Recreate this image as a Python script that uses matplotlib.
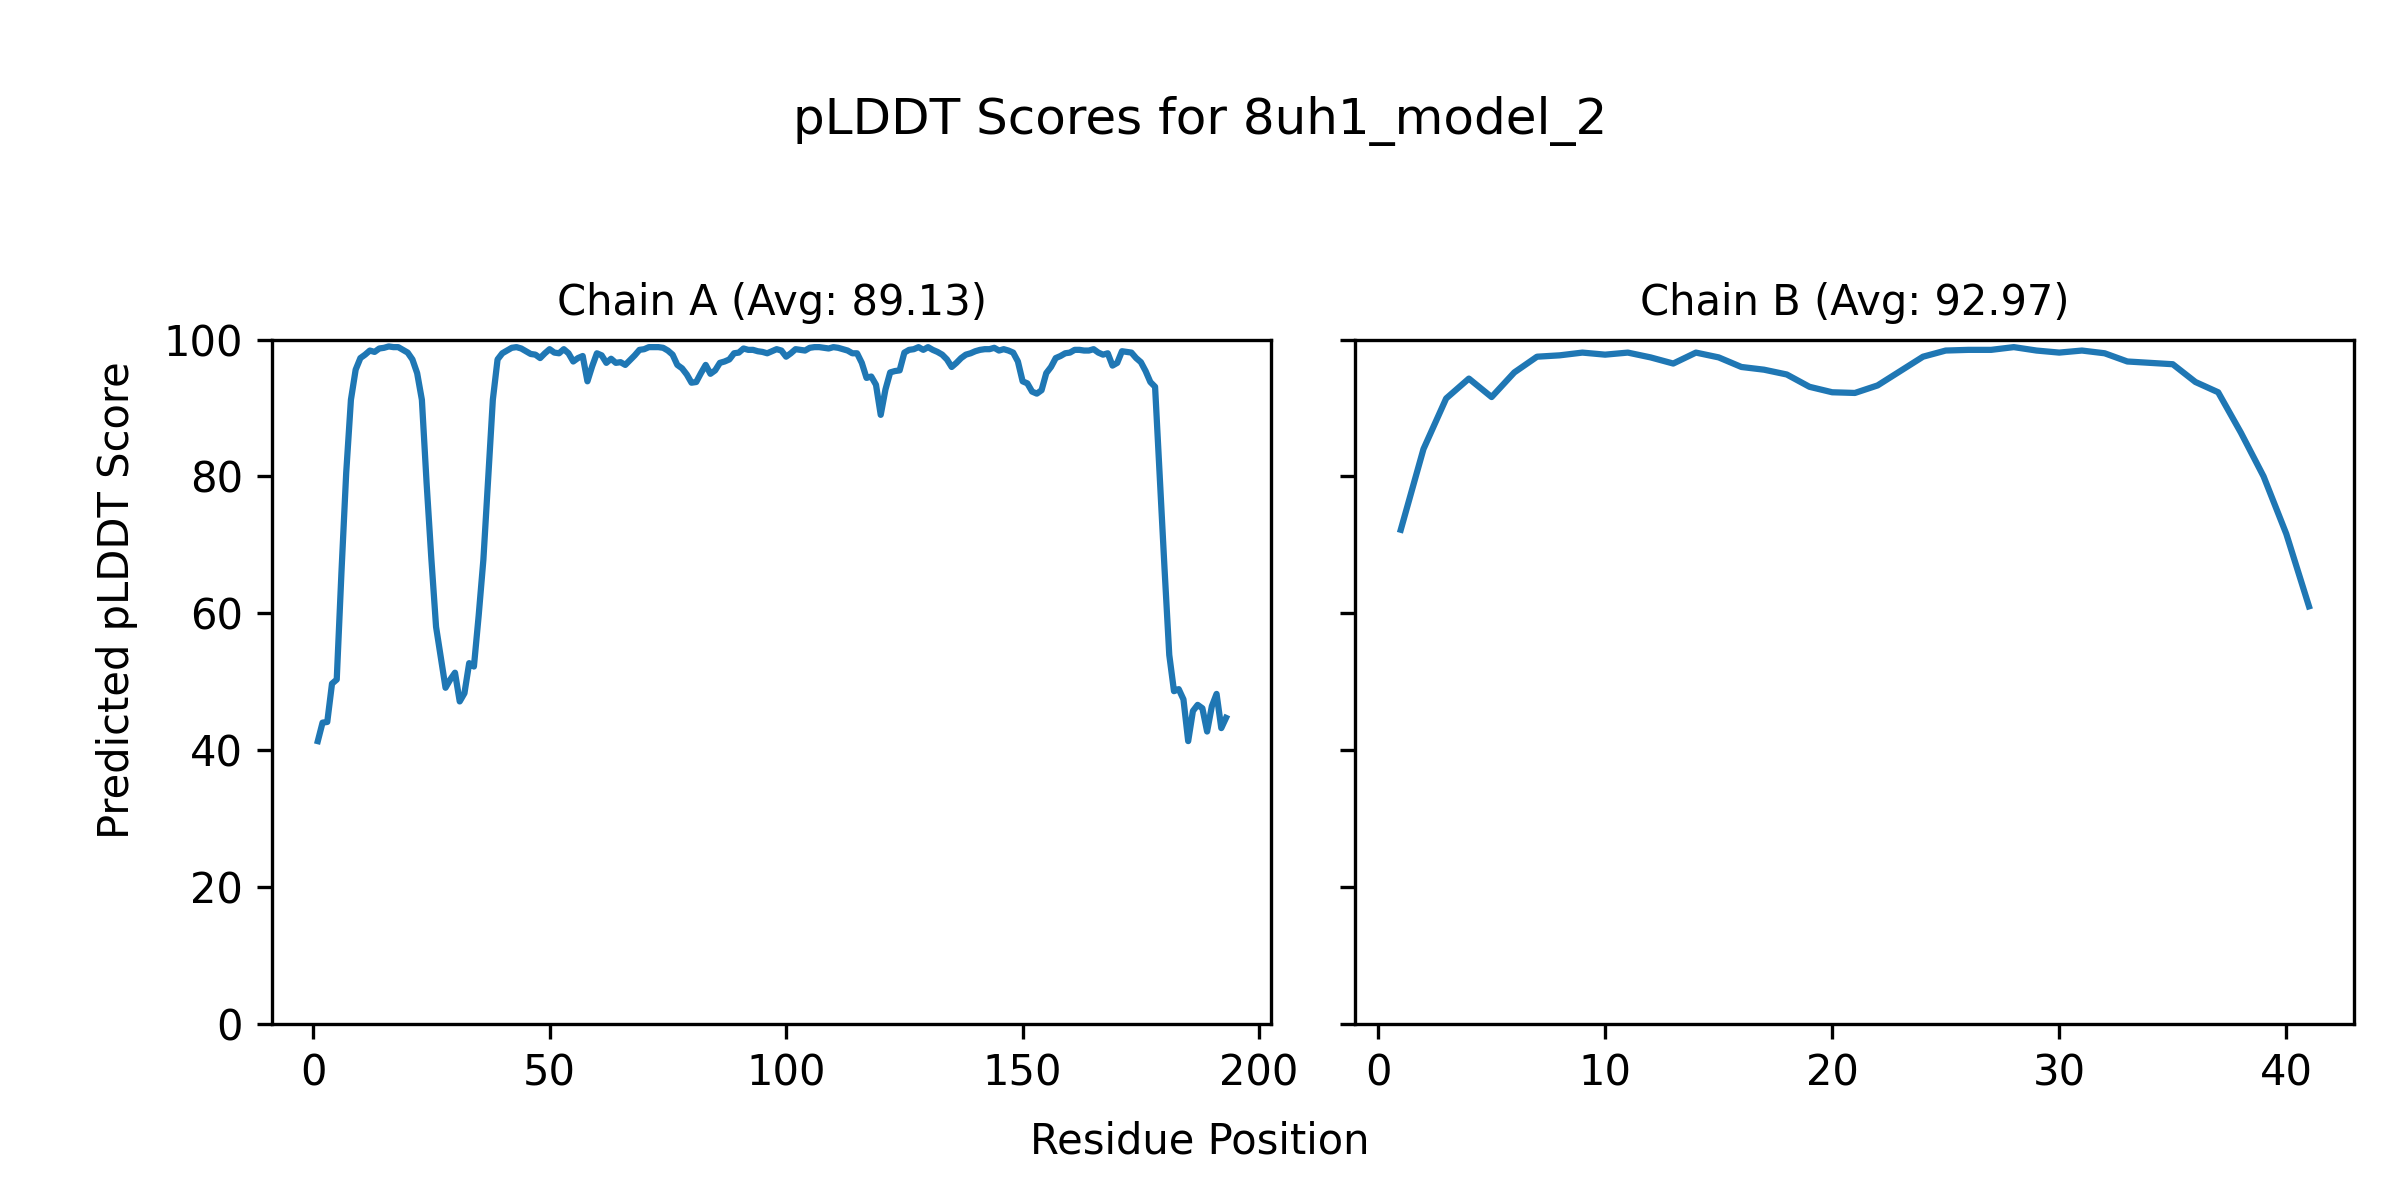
import matplotlib
matplotlib.use("Agg")
import matplotlib.pyplot as plt
import numpy as np

title = "pLDDT Scores for 8uh1_model_2"
chain_a_title = "Chain A (Avg: 89.13)"
chain_b_title = "Chain B (Avg: 92.97)"

chain_a_scores = [
    41.3, 44.0, 44.1, 49.7, 50.3, 66.0, 80.5, 91.2, 95.6, 97.3,   # 1-10
    97.8, 98.4, 98.2, 98.7, 98.8, 99.0, 98.9, 98.9, 98.5, 98.1,   # 11-20
    97.1, 95.1, 91.2, 79.0, 68.0, 58.0, 53.5, 49.1, 50.3, 51.3,   # 21-30
    47.1, 48.3, 52.7, 52.2, 59.6, 67.8, 79.5, 91.2, 97.1, 98.0,   # 31-40
    98.4, 98.8, 98.9, 98.7, 98.3, 97.9, 97.8, 97.3, 98.0, 98.6,   # 41-50
    98.1, 98.0, 98.6, 98.0, 96.8, 97.3, 97.6, 93.9, 96.1, 98.0,   # 51-60
    97.7, 96.6, 97.2, 96.6, 96.7, 96.3, 97.0, 97.7, 98.5, 98.6,   # 61-70
    98.9, 98.9, 98.9, 98.8, 98.4, 97.8, 96.3, 95.8, 94.9, 93.7,   # 71-80
    93.8, 95.1, 96.3, 95.0, 95.5, 96.6, 96.8, 97.1, 98.0, 98.1,   # 81-90
    98.7, 98.5, 98.5, 98.3, 98.2, 98.0, 98.3, 98.6, 98.4, 97.5,   # 91-100
    98.0, 98.6, 98.5, 98.4, 98.8, 98.9, 98.9, 98.8, 98.7, 98.9,   # 101-110
    98.8, 98.6, 98.4, 98.0, 98.0, 96.6, 94.4, 94.6, 93.4, 89.0,   # 111-120
    92.7, 95.2, 95.4, 95.5, 98.1, 98.5, 98.6, 98.9, 98.5, 98.9,   # 121-130
    98.5, 98.2, 97.8, 97.1, 96.0, 96.6, 97.3, 97.8, 98.0, 98.3,   # 131-140
    98.5, 98.6, 98.6, 98.8, 98.4, 98.6, 98.4, 98.1, 96.8, 93.9,   # 141-150
    93.6, 92.4, 92.1, 92.6, 95.1, 96.0, 97.3, 97.6, 98.0, 98.1,   # 151-160
    98.5, 98.5, 98.4, 98.4, 98.6, 98.1, 97.8, 98.0, 96.2, 96.6,   # 161-170
    98.3, 98.2, 98.1, 97.3, 96.7, 95.4, 93.8, 93.1, 79.9, 66.5,   # 171-180
    53.9, 48.6, 48.9, 47.4, 41.3, 45.7, 46.6, 46.1, 42.7, 46.4,   # 181-190
    48.2, 43.2, 44.7,                                             # 191-193
]

chain_b_scores = [
    72.2, 84.0, 91.4, 94.3, 91.6, 95.2, 97.5, 97.7, 98.1, 97.8,
    98.1, 97.4, 96.5, 98.1, 97.4, 96.0, 95.6, 94.9, 93.1, 92.3,
    92.2, 93.3, 95.4, 97.5, 98.4, 98.5, 98.5, 98.9, 98.4, 98.1,
    98.4, 98.0, 96.8, 96.6, 96.4, 93.8, 92.3, 86.4, 80.0, 71.6,
    61.0,
]

chain_a_pos = np.arange(1, len(chain_a_scores) + 1)
chain_b_pos = np.arange(1, len(chain_b_scores) + 1)

plt.rcParams['font.size'] = 10

fig, axes = plt.subplots(1, 2, figsize=(8, 4), dpi=300, sharey=True)
fig.subplots_adjust(left=0.1135, right=0.981, bottom=0.147, top=0.717, wspace=0.084)

axes[0].plot(chain_a_pos, chain_a_scores, color="#1f77b4", linewidth=1.5)
axes[0].set_title(chain_a_title, fontsize=10)
axes[1].plot(chain_b_pos, chain_b_scores, color="#1f77b4", linewidth=1.5)
axes[1].set_title(chain_b_title, fontsize=10)
axes[0].set_ylim(0, 100)

fig.suptitle(title, fontsize=12, y=0.92)
fig.supxlabel("Residue Position", fontsize=10, y=0.031)
fig.supylabel("Predicted pLDDT Score", fontsize=10, x=0.040)

fig.savefig("out.png", dpi=300)
